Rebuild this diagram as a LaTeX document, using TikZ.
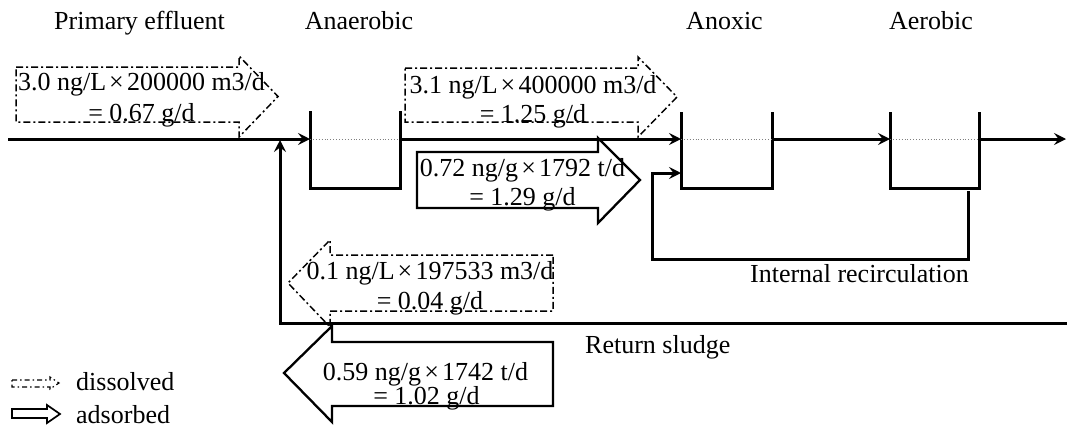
\documentclass[tikz,border=0pt]{standalone}
\usepackage{fontspec}
\setmainfont{Liberation Serif}
\usetikzlibrary{arrows.meta}
\newcommand{\mtimes}{\kern0.12em×\kern0.12em}
\begin{document}
\begin{tikzpicture}[x=1pt,y=-1pt,
  lbl/.style={inner sep=0pt, anchor=base, font=\fontsize{26}{29}\selectfont},
  pipe/.style={line width=3pt, line join=miter},
  flow/.style={pipe, -{Stealth[length=12pt,width=12pt,inset=4.5pt]}},
  wall/.style={line width=3pt, line join=miter},
  level/.style={gray, line width=0.9pt, dotted},
  dissolved/.style={line width=1.5pt, dash pattern=on 7pt off 3pt on 2pt off 3pt, line join=miter},
  adsorbed/.style={line width=2.3pt, line join=miter},
  legdis/.style={line width=1.2pt, dash pattern=on 5pt off 3pt on 1.5pt off 3pt, line join=miter},
  legads/.style={line width=1.7pt, line join=miter}]
\useasboundingbox (0,0) rectangle (1067,432);

% ---- coordinates of the process line ----
\coordinate (in)   at (8,139);
\coordinate (anTL) at (310,111);
\coordinate (anBL) at (310,188);
\coordinate (anBR) at (400,188);
\coordinate (anTR) at (400,111);
\coordinate (anL)  at (310,139);
\coordinate (anR)  at (400,139);
\coordinate (axTL) at (681,112);
\coordinate (axBL) at (681,188);
\coordinate (axBR) at (772,188);
\coordinate (axTR) at (772,112);
\coordinate (axL)  at (681,139);
\coordinate (axR)  at (772,139);
\coordinate (aeTL) at (890,112);
\coordinate (aeBL) at (890,188);
\coordinate (aeBR) at (979,188);
\coordinate (aeTR) at (979,112);
\coordinate (aeL)  at (890,139);
\coordinate (aeR)  at (979,139);
\coordinate (out)  at (1066,139);
% internal recirculation
\coordinate (rc1)  at (968,191);
\coordinate (rc2)  at (968,259);
\coordinate (rc3)  at (652,259);
\coordinate (rc4)  at (652,173);
\coordinate (axIn) at (681,173);
% return sludge
\coordinate (rs1)  at (1067,323);
\coordinate (rs2)  at (280,323);
\coordinate (rs3)  at (280,140);

% ---- tanks ----
\draw[wall] (anTL) -- (anBL) -- (anBR) -- (anTR);
\draw[wall] (axTL) -- (axBL) -- (axBR) -- (axTR);
\draw[wall] (aeTL) -- (aeBL) -- (aeBR) -- (aeTR);
\draw[level] (anL) -- (anR);
\draw[level] (axL) -- (axR);
\draw[level] (aeL) -- (aeR);

% ---- flows ----
\draw[flow] (in) -- (anL);
\draw[flow] (anR) -- (axL);
\draw[flow] (axR) -- (aeL);
\draw[flow] (aeR) -- (out);
\draw[flow] (rc1) -- (rc2) -- (rc3) -- (rc4) -- (axIn);
\draw[flow] (rs1) -- (rs2) -- (rs3);

% ---- block arrows ----
\draw[dissolved] (16,67) -- (239,67) -- (239,56) -- (278,96.5) -- (239,137) -- (239,122) -- (16,122) -- cycle;
\draw[dissolved] (405,68) -- (638,68) -- (638,57) -- (677,97) -- (638,137) -- (638,122) -- (405,122) -- cycle;
\draw[adsorbed] (417,152) -- (598,152) -- (598,138) -- (640,180) -- (598,223) -- (598,208) -- (417,208) -- cycle;
\draw[dissolved] (553,255) -- (330,255) -- (330,240) -- (288,283) -- (330,327) -- (330,311) -- (553,311) -- cycle;
\draw[adsorbed] (553,342) -- (332,342) -- (332,326) -- (284,373) -- (332,422) -- (332,406) -- (553,406) -- cycle;

% ---- legend icons ----
\draw[legdis] (12,380) -- (50,380) -- (50,377) -- (59,383) -- (50,389) -- (50,387) -- (12,387) -- cycle;
\draw[legads] (12,409) -- (47,409) -- (47,405) -- (60,414) -- (47,423) -- (47,418) -- (12,418) -- cycle;

% ---- texts ----
\node[lbl] (tPE) at (139.5,29) {Primary effluent};
\node[lbl] (tAN) at (359,29) {Anaerobic};
\node[lbl] (tAX) at (724.5,29) {Anoxic};
\node[lbl] (tAE) at (931,29) {Aerobic};

\node[lbl] (d1a) at (141.5,90) {3.0 ng/L\mtimes200000 m3/d};
\node[lbl] (d1b) at (141.5,121) {= 0.67 g/d};
\node[lbl] (d2a) at (533,93) {3.1 ng/L\mtimes400000 m3/d};
\node[lbl] (d2b) at (533,122) {= 1.25 g/d};
\node[lbl] (a1a) at (522.5,176) {0.72 ng/g\mtimes1792 t/d};
\node[lbl] (a1b) at (522.5,205) {= 1.29 g/d};
\node[lbl] (d3a) at (430,279) {0.1 ng/L\mtimes197533 m3/d};
\node[lbl] (d3b) at (430,309) {= 0.04 g/d};
\node[lbl] (a2a) at (425.5,380) {0.59 ng/g\mtimes1742 t/d};
\node[lbl] (a2b) at (426.5,404) {= 1.02 g/d};

\node[lbl] (tIR) at (859.5,282) {Internal recirculation};
\node[lbl, anchor=base west] (tRS) at (585,353) {Return sludge};

\node[lbl, anchor=base west] (lgD) at (76,390) {dissolved};
\node[lbl, anchor=base west] (lgA) at (76,423) {adsorbed};
\end{tikzpicture}
\end{document}
